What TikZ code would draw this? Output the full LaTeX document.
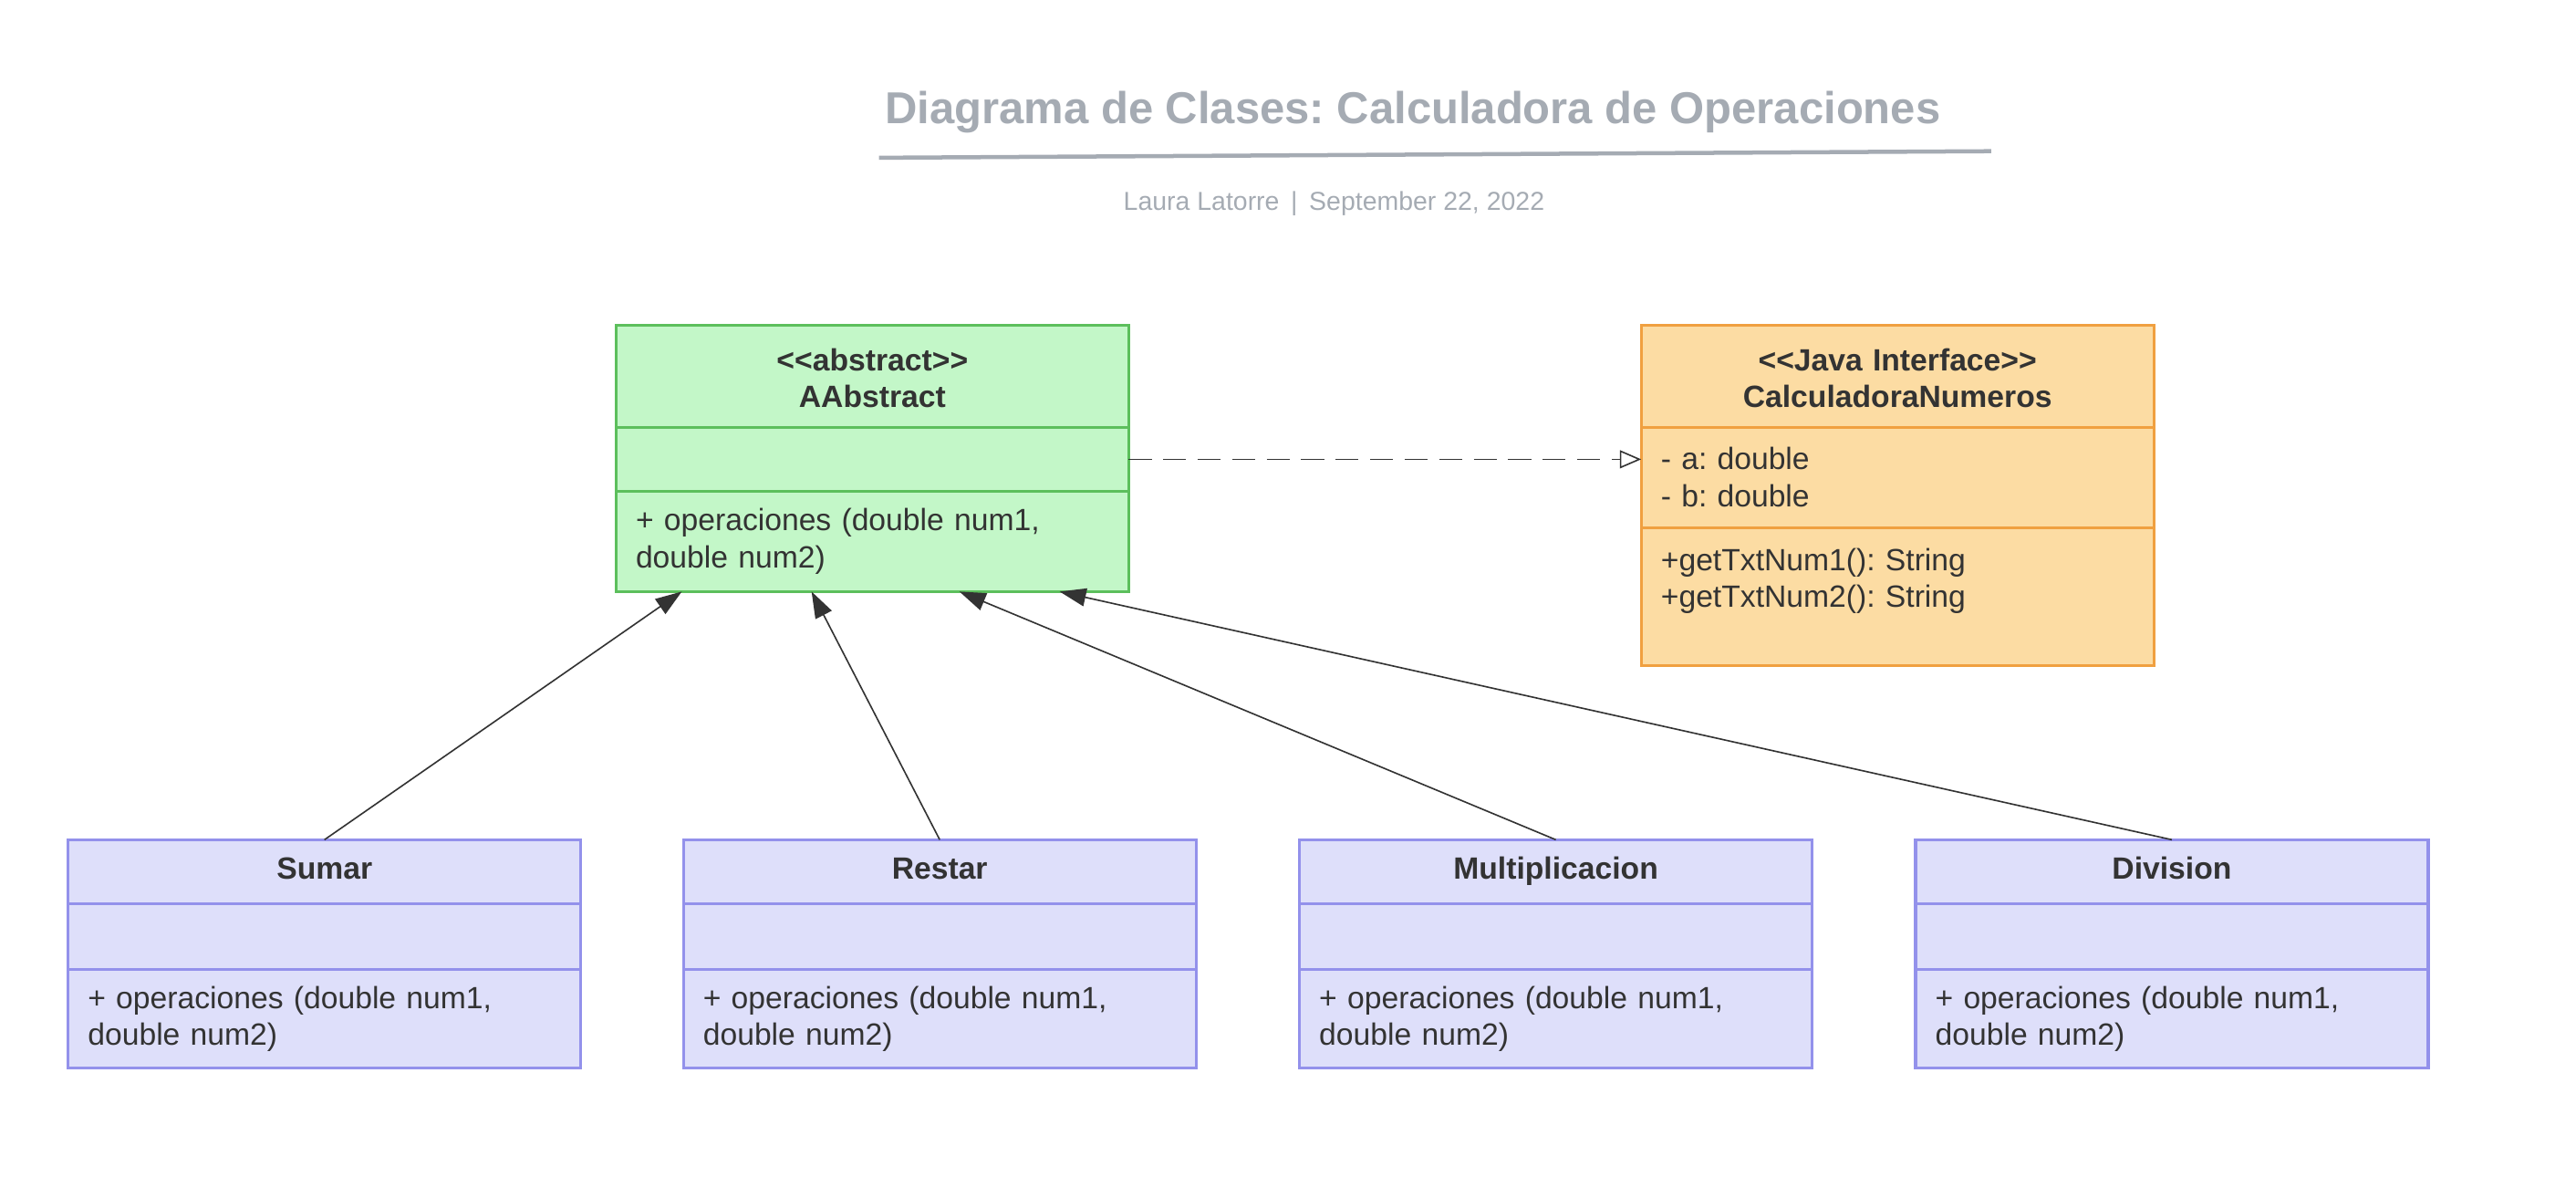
\documentclass[tikz,border=0pt]{standalone}
\usepackage{fontspec}
\newfontfamily\lucid{Liberation Sans}
\usetikzlibrary{positioning,arrows.meta}
\definecolor{txt}{HTML}{333333}
\definecolor{titlegray}{HTML}{A5ABB3}
\definecolor{absfill}{HTML}{C3F7C8}
\definecolor{absline}{HTML}{5CBF5C}
\definecolor{iffill}{HTML}{FCDCA3}
\definecolor{ifline}{HTML}{F0A040}
\definecolor{subfill}{HTML}{DEDFFA}
\definecolor{subline}{HTML}{9391EB}
\frenchspacing
\tikzset{
  part/.style={draw, line width=1.8pt, minimum width=312pt, text width=288pt,
    inner xsep=12pt, inner ysep=0pt, outer sep=0pt, text=txt,
    font=\lucid\frenchspacing\fontsize{18.7}{22.5}\selectfont},
  head/.style={part, align=center, execute at begin node=\strut,
    font=\lucid\frenchspacing\bfseries\fontsize{18.7}{22.5}\selectfont},
  body/.style={part, align=left},
  abs/.style={fill=absfill, draw=absline},
  iface/.style={fill=iffill, draw=ifline},
  sub/.style={fill=subfill, draw=subline},
  inherit/.style={-{Triangle[length=16pt,width=11pt]}, line width=0.9pt, draw=txt},
  realize/.style={-{Triangle[open,length=13pt,width=11pt]}, line width=0.9pt, draw=txt,
    dash pattern=on 14pt off 7pt}
}
\begin{document}
\begin{tikzpicture}[x=1pt, y=-1pt]
  \useasboundingbox (0,0) rectangle (1568,729);
  % title
  \node[text=titlegray, font=\lucid\frenchspacing\bfseries\fontsize{27.2}{32}\selectfont] (title) at (860,68)
    {Diagrama de Clases: Calculadora de Operaciones};
  \draw[titlegray, line width=2.5pt] (535,96) -- (1212,92);
  \node[text=titlegray, font=\lucid\fontsize{15.8}{19}\selectfont] (author) at (812,124)
    {Laura Latorre \,|\, September 22, 2022};
  % abstract class
  \node[head, abs, minimum height=62pt] (absH) at (531,229) {<<abstract>>\\AAbstract};
  \node[body, abs, minimum height=39pt, below=0pt of absH] (absA) {};
  \node[body, abs, minimum height=61pt, below=0pt of absA] (absO)
    {+ operaciones (double num1,\\double num2)};
  % interface
  \node[head, iface, minimum height=62pt] (ifH) at (1155,229) {<<Java Interface>>\\CalculadoraNumeros};
  \node[body, iface, minimum height=61pt, below=0pt of ifH] (ifA) {- a: double\\- b: double};
  \node[body, iface, minimum height=84pt, below=0pt of ifA] (ifO)
    {+getTxtNum1(): String\\+getTxtNum2(): String\\\mbox{}};
  \draw[realize] (absA.east) -- (ifA.west |- absA.east);
  % subclasses
  \foreach \n/\name/\x/\dx in {sum/Sumar/197.5/-116, res/Restar/572/-37,
      mul/Multiplicacion/947/53, div/Division/1322/114} {
    \node[head, sub, minimum height=39pt] (\n H) at (\x,530.5) {\name};
    \node[body, sub, minimum height=40pt, below=0pt of \n H] (\n A) {};
    \node[body, sub, minimum height=60pt, below=0pt of \n A] (\n O)
      {+ operaciones (double num1,\\double num2)};
    \draw[inherit] (\n H.north) -- ([xshift=\dx pt]absO.south);
  }
\end{tikzpicture}
\end{document}
